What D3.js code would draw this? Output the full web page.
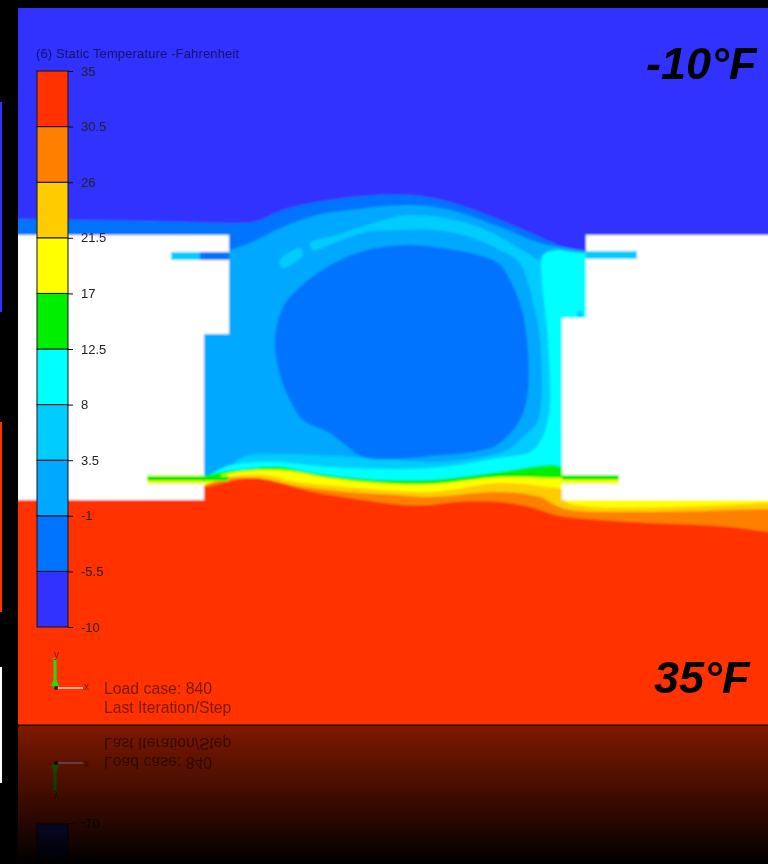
<!DOCTYPE html>
<html>
<head>
<meta charset="utf-8">
<style>
  html, body { margin: 0; padding: 0; background: #000; overflow: hidden; }
  svg { display: block; }
  text { font-family: "Liberation Sans", Arial, sans-serif; }
</style>
<script src="https://cdn.jsdelivr.net/npm/d3@7"></script>
</head>
<body>
<svg></svg>
<script>
let width = 768;
let height = 864;

// temperature levels of the colour bar, Fahrenheit
let levels = [-10, -5.5, -1, 3.5, 8, 12.5, 17, 21.5, 26, 30.5, 35];
let levelLabels = ["-10", "-5.5", "-1", "3.5", "8", "12.5", "17", "21.5", "26", "30.5", "35"];
let bandColors = ["#3333ff", "#0073ff", "#00a8ff", "#00ccff", "#00ffff", "#00ee00", "#ffff00", "#ffcc00", "#ff8000", "#ff3300"];

// contour lines, in grid units [x, y]
// they run a little past the plot edge so the soft blur has no seam there
let edgeBlue = [[6,219],[18,219],[85,220],[150,221],[230,223],[253,222],[283,210],[317,202],[363,196],[410,195],[450,202],[500,220],[540,237],[567,248],[586,251]];
let edgeMid = [[6,262],[204,262],[230,250],[250,243],[283,227],[317,215],[350,210],[410,205],[450,210],[500,227],[540,243],[567,248],[586,251]];
let ringLight = [[310,243],[337,235],[367,225],[410,215],[467,223],[500,237],[527,253],[545,262],[586,262],[586,600],[229,600],[229,472],[243,457],[280,454],[337,456],[397,460],[430,462],[463,460],[507,450],[525,435],[538,420],[540,340],[535,310],[527,280],[520,263],[500,250],[470,237],[433,230],[400,230],[367,232],[337,242],[313,250]];
let streakLight = [[280,260],[300,248],[303,255],[282,268]];
let coreCold = [[275,340],[283,307],[300,287],[327,267],[357,253],[383,247],[410,245],[433,247],[470,253],[498,263],[510,280],[522,310],[527,340],[528,390],[520,420],[497,445],[473,452],[430,456],[397,459],[363,457],[343,443],[330,433],[303,420],[290,400],[280,375]];
let edgeCyan = [[205,478],[230,465],[277,462],[330,467],[430,468],[497,458],[533,450],[548,420],[548,340],[542,280],[543,255],[557,250],[573,252],[586,253]];
let edgeGreen = [[204,476],[223,472],[247,469],[280,467],[313,473],[363,479],[430,480],[500,472],[553,465],[562,467],[785,467]];
let edgeYellow = [[204,482],[230,473],[280,470],[330,478],[380,483],[430,484],[500,477],[562,478],[785,478]];
let edgeGold = [[204,485],[227,477],[263,475],[297,482],[347,487],[430,492],[500,483],[547,487],[562,490],[566,502],[785,502]];
let edgeOrange = [[204,486],[227,479],[263,479],[297,486],[347,492],[397,495],[430,497],[500,492],[540,497],[555,505],[570,510],[650,512],[768,509],[785,509]];
let edgeRed = [[6,487],[18,487],[204,487],[230,481],[253,478],[280,483],[313,492],[363,500],[403,505],[430,505],[455,502],[500,502],[530,507],[555,515],[575,518],[630,522],[730,527],[768,532],[785,534]];

let leftWall = [[6,235],[229,235],[229,334],[204,334],[204,500],[6,500]];
let rightWall = [[586,235],[785,235],[785,500],[562,500],[562,318],[586,318]];

// thin slots through the walls: x0, x1, y0, y1, colour
let slots = [
  [171, 200, 252, 260, "#00ccff"],
  [200, 229, 252, 260, "#0073ff"],
  [586, 637, 251, 259, "#00ccff"],
  [147, 204, 475, 484, "#ffff00"],
  [147, 229, 476, 481, "#00ee00"],
  [562, 619, 476, 484, "#ffff00"],
  [562, 619, 475, 480, "#00ee00"]
];

// small spots in the field: x, y, colour
let flecks = [[533, 248, "#00a8ff"], [580, 314, "#00ccff"]];
let coreScratch = [[313,454],[324,451],[335,450]];

// slivers of the neighbouring slides at the left edge: y0, y1, colour
let slivers = [[102, 312, "#3333ff"], [422, 612, "#ff3300"], [667, 783, "#ffffff"]];

let svg = d3.select("svg").attr("width", width).attr("height", height);
let defs = svg.append("defs");

let xScale = d3.scaleLinear().domain([18, 768]).range([18, 768]);
let yScale = d3.scaleLinear().domain([8, 725]).range([8, 725]);
let legendScale = d3.scaleLinear().domain([-10, 35]).range([627, 71]);

let smooth = d3.line().x(d => xScale(d[0])).y(d => yScale(d[1])).curve(d3.curveCatmullRom.alpha(0.5));
let smoothClosed = d3.line().x(d => xScale(d[0])).y(d => yScale(d[1])).curve(d3.curveCatmullRomClosed.alpha(0.5));
let straight = d3.line().x(d => xScale(d[0])).y(d => yScale(d[1]));

// area under a contour line, down past the bottom of the plot
let below = (edge) => {
  let first = edge[0];
  let last = edge[edge.length - 1];
  return smooth(edge) + "L" + xScale(last[0]) + "," + yScale(745) + "L" + xScale(first[0]) + "," + yScale(745) + "Z";
};

defs.append("filter").attr("id", "soft")
  .attr("filterUnits", "userSpaceOnUse")
  .attr("x", 0).attr("y", 0).attr("width", width + 20).attr("height", height)
  .append("feGaussianBlur").attr("stdDeviation", 1);
defs.append("filter").attr("id", "softText")
  .attr("filterUnits", "userSpaceOnUse")
  .attr("x", 0).attr("y", 0).attr("width", width).attr("height", height)
  .append("feGaussianBlur").attr("stdDeviation", 0.7);
defs.append("filter").attr("id", "softBig")
  .attr("filterUnits", "userSpaceOnUse")
  .attr("x", 0).attr("y", 0).attr("width", width).attr("height", height)
  .append("feGaussianBlur").attr("stdDeviation", 0.5);
defs.append("clipPath").attr("id", "plotClip")
  .append("rect").attr("x", 18).attr("y", 8).attr("width", 750).attr("height", 717);

let fade = defs.append("linearGradient").attr("id", "fade")
  .attr("gradientUnits", "userSpaceOnUse")
  .attr("x1", 0).attr("x2", 0).attr("y1", 725).attr("y2", 864);
fade.append("stop").attr("offset", 0).attr("stop-color", "#000").attr("stop-opacity", 0.5);
fade.append("stop").attr("offset", 1).attr("stop-color", "#000").attr("stop-opacity", 1);

let scene = svg.append("g").attr("id", "scene").attr("clip-path", "url(#plotClip)");

let drawField = () => {
  let field = scene.append("g").attr("filter", "url(#soft)");
  field.append("rect").attr("x", 0).attr("y", 0).attr("width", 788).attr("height", 745).attr("fill", bandColors[0]);
  field.append("path").attr("d", below(edgeBlue)).attr("fill", bandColors[1]);
  field.append("path").attr("d", below(edgeMid)).attr("fill", bandColors[2]);
  field.append("path").attr("d", smoothClosed(ringLight)).attr("fill", bandColors[3]);
  field.append("path").attr("d", smoothClosed(streakLight)).attr("fill", bandColors[3]);
  field.append("path").attr("d", smoothClosed(coreCold)).attr("fill", bandColors[1]);
  field.append("path").attr("d", smooth(coreScratch)).attr("fill", "none").attr("stroke", bandColors[2]).attr("stroke-width", 2);
  field.append("path").attr("d", below(edgeCyan)).attr("fill", bandColors[4]);
  field.selectAll("circle.fleck")
    .data(flecks)
    .enter()
    .append("circle")
    .attr("class", "fleck")
    .attr("cx", d => xScale(d[0]))
    .attr("cy", d => yScale(d[1]))
    .attr("r", 3)
    .attr("fill", d => d[2]);
  field.append("path").attr("d", below(edgeGreen)).attr("fill", bandColors[5]);
  field.append("path").attr("d", below(edgeYellow)).attr("fill", bandColors[6]);
  field.append("path").attr("d", below(edgeGold)).attr("fill", bandColors[7]);
  field.append("path").attr("d", below(edgeOrange)).attr("fill", bandColors[8]);
  field.append("path").attr("d", below(edgeRed)).attr("fill", bandColors[9]);
  field.append("path").attr("d", straight(leftWall) + "Z").attr("fill", "#fff");
  field.append("path").attr("d", straight(rightWall) + "Z").attr("fill", "#fff");
  field.selectAll("rect.slot")
    .data(slots)
    .enter()
    .append("rect")
    .attr("class", "slot")
    .attr("x", d => xScale(d[0]))
    .attr("width", d => xScale(d[1]) - xScale(d[0]))
    .attr("y", d => yScale(d[2]))
    .attr("height", d => yScale(d[3]) - yScale(d[2]))
    .attr("fill", d => d[4]);
};

let drawLegend = () => {
  let legend = scene.append("g").attr("filter", "url(#softText)");
  legend.selectAll("rect.band")
    .data(levels.slice(0, -1))
    .enter()
    .append("rect")
    .attr("class", "band")
    .attr("x", 37)
    .attr("width", 31)
    .attr("y", (d, i) => legendScale(levels[i + 1]))
    .attr("height", (d, i) => legendScale(levels[i]) - legendScale(levels[i + 1]))
    .attr("fill", (d, i) => bandColors[i])
    .attr("stroke", "#111")
    .attr("stroke-width", 1);

  let axis = d3.axisRight(legendScale)
    .tickValues(levels)
    .tickFormat((d, i) => levelLabels[i])
    .tickSize(5)
    .tickPadding(8);
  let axisGroup = legend.append("g")
    .attr("transform", "translate(68,0)")
    .call(axis);
  axisGroup.select(".domain").remove();
  axisGroup.selectAll("line").attr("stroke", "#111");
  axisGroup.selectAll("text")
    .attr("font-size", 13)
    .attr("fill", "#222")
    .attr("font-family", "Liberation Sans, Arial, sans-serif");

  legend.append("text")
    .attr("x", 36).attr("y", 58)
    .attr("font-size", 13)
    .attr("textLength", 203)
    .attr("fill", "#14146e")
    .text("(6) Static Temperature -Fahrenheit");
};

let drawNotes = () => {
  let small = scene.append("g").attr("filter", "url(#softText)");
  small.append("text").attr("x", 104).attr("y", 694).attr("font-size", 15.8).attr("fill", "#7a1a00").text("Load case: 840");
  small.append("text").attr("x", 104).attr("y", 713).attr("font-size", 15.7).attr("fill", "#7a1a00").text("Last Iteration/Step");

  // view triad
  small.append("line").attr("x1", 58).attr("x2", 83).attr("y1", 688).attr("y2", 688).attr("stroke", "#ffb0a0").attr("stroke-width", 2);
  small.append("line").attr("x1", 55).attr("x2", 55).attr("y1", 658).attr("y2", 688).attr("stroke", "#22dd11").attr("stroke-width", 3);
  small.append("path").attr("d", "M51,686L55,677L59,686Z").attr("fill", "#22dd11");
  small.append("circle").attr("cx", 56).attr("cy", 688).attr("r", 2).attr("fill", "#222");
  small.append("text").attr("x", 54).attr("y", 658).attr("font-size", 10).attr("fill", "#7a1a00").text("y");
  small.append("text").attr("x", 84).attr("y", 690).attr("font-size", 10).attr("fill", "#7a1a00").text("x");
};

let drawReflection = () => {
  svg.append("rect").attr("x", 18).attr("y", 725).attr("width", 750).attr("height", 139).attr("fill", "#000");
  svg.append("use").attr("href", "#scene").attr("transform", "translate(0,1451) scale(1,-1)");
  svg.append("rect").attr("x", 18).attr("y", 725).attr("width", 750).attr("height", 139).attr("fill", "url(#fade)");
  svg.append("rect").attr("x", 18).attr("y", 724.5).attr("width", 750).attr("height", 1.5).attr("fill", "#200500");
};

// the big labels sit on top of the slide, they have no reflection
let drawBigLabels = () => {
  let big = svg.append("g").attr("filter", "url(#softBig)");
  big.append("text")
    .attr("x", 646).attr("y", 79)
    .attr("font-size", 45).attr("font-weight", "bold").attr("font-style", "italic")
    .attr("fill", "#000")
    .text("-10°F");
  big.append("text")
    .attr("x", 654).attr("y", 693)
    .attr("font-size", 45).attr("font-weight", "bold").attr("font-style", "italic")
    .attr("fill", "#000")
    .text("35°F");
};

let drawSlivers = () => {
  svg.selectAll("rect.sliver")
    .data(slivers)
    .enter()
    .append("rect")
    .attr("class", "sliver")
    .attr("x", 0)
    .attr("width", 2)
    .attr("y", d => d[0])
    .attr("height", d => d[1] - d[0])
    .attr("fill", d => d[2]);
};

drawField();
drawLegend();
drawNotes();
drawReflection();
drawBigLabels();
drawSlivers();
</script>
</body>
</html>
